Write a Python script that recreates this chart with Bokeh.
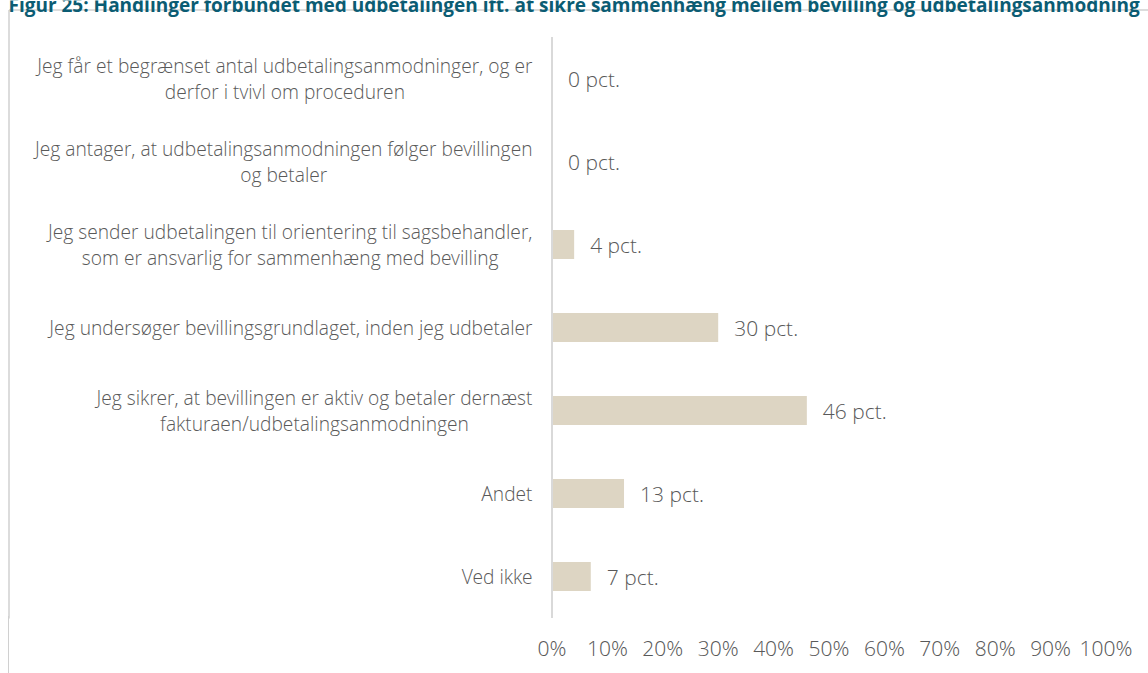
import glob
import subprocess

from bokeh.plotting import figure
from bokeh.models import (Range1d, FixedTicker, PrintfTickFormatter, ColumnDataSource, Label, Arrow,
                          InlineStyleSheet)
from bokeh.core.properties import value
from bokeh.embed import file_html
from bokeh.resources import INLINE

# ---------------- data ----------------
title_text = ("Figur 25: Handlinger forbundet med udbetalingen ift. at sikre sammenhæng "
              "mellem bevilling og udbetalingsanmodning")
categories = [
    "Jeg får et begrænset antal udbetalingsanmodninger, og er\nderfor i tvivl om proceduren",
    "Jeg antager, at udbetalingsanmodningen følger bevillingen\nog betaler",
    "Jeg sender udbetalingen til orientering til sagsbehandler,\nsom er ansvarlig for sammenhæng med bevilling",
    "Jeg undersøger bevillingsgrundlaget, inden jeg udbetaler",
    "Jeg sikrer, at bevillingen er aktiv og betaler dernæst\nfakturaen/udbetalingsanmodningen",
    "Andet",
    "Ved ikke",
]
values = [0, 0, 4, 30, 46, 13, 7]
value_labels = [f"{v} pct." for v in values]
x_ticks = list(range(0, 101, 10))

# ---------------- layout ----------------
W, H = 1148, 673
FRAME_BOTTOM = 618          # canvas px where the plotting frame ends
ZERO_PX = 551.5             # canvas px of 0 %
PX_PER_PCT = 5.54
FIRST_CENTER = 78           # canvas px of first category centre
BAND = 83                   # px per category
FONT_MAIN = "Open Sans Light, Open Sans"
GRAY = "#595959"
LIGHT = "#D9D9D9"
BORDER = "#D0D0D0"
BAR = "#DDD5C3"
TEAL = "#0B5C73"
CAT_SIZE = 19.2
VAL_SIZE = 21
LINE_SPACING = 26


def px_to_x(px):
    return (px - ZERO_PX) / PX_PER_PCT


def px_to_y(py):
    return (py - FIRST_CENTER) / BAND


def _font_path():
    for pat in ["/usr/share/fonts/**/OpenSans-Light.ttf", "/usr/share/fonts/**/OpenSans*Light*.ttf",
                "/usr/share/fonts/**/OpenSans-Regular.ttf", "/usr/share/fonts/**/OpenSans*.ttf",
                "/usr/local/share/fonts/**/OpenSans*.ttf"]:
        found = sorted(f for f in glob.glob(pat, recursive=True) if "Italic" not in f)
        if found:
            return found[0]
    try:
        r = subprocess.run(["fc-match", "-f", "%{file}", "Open Sans"], capture_output=True, text=True, timeout=5)
        if r.stdout:
            return r.stdout.strip()
    except Exception:
        pass
    return None


_FP = _font_path()
_cache = {}


def text_width(s, size):
    try:
        from PIL import ImageFont
        key = round(size * 4)
        if key not in _cache:
            _cache[key] = ImageFont.truetype(_FP, size)
        return _cache[key].getlength(s)
    except Exception:
        return 0.52 * size * len(s)


n = len(categories)
idx = list(range(n))

# left border continues below the plotting frame (drawn as an overlay on the host element)
border_css = InlineStyleSheet(css=f"""
:host {{ position: relative; }}
:host::after {{
  content: "";
  position: absolute;
  left: 7.75px;
  top: {FRAME_BOTTOM - 2}px;
  width: 1.5px;
  height: {H - FRAME_BOTTOM + 2}px;
  background: {BORDER};
  z-index: 10;
  pointer-events: none;
}}
""")

p = figure(width=W, height=H,
           x_range=Range1d(px_to_x(0), px_to_x(W)),
           y_range=Range1d(px_to_y(FRAME_BOTTOM), px_to_y(0)),
           output_backend="svg", toolbar_location=None,
           y_axis_location=None,
           min_border_left=0, min_border_right=0, min_border_top=0,
           min_border_bottom=H - FRAME_BOTTOM)
p.stylesheets = [border_css]
p.outline_line_color = None
p.xgrid.grid_line_color = None
p.ygrid.grid_line_color = None
p.background_fill_color = "white"
p.border_fill_color = "white"

# bars
src = ColumnDataSource(dict(y=idx, v=values, lab=value_labels))
p.hbar(y="y", left=0, right="v", height=0.35, source=src,
       fill_color=BAR, line_color=None)

# category axis line
p.segment(x0=[0], y0=[-0.5], x1=[0], y1=[n - 0.5], line_color=LIGHT, line_width=2)

# value labels
p.text(x="v", y="y", text="lab", source=src, x_offset=16,
       text_font=value(FONT_MAIN), text_font_size=f"{VAL_SIZE}px", text_color=GRAY,
       text_align="left", text_baseline="middle")

# category labels (lines centred within a right-aligned block)
lx, ly, lt = [], [], []
RIGHT_GAP = 19.5
for i, cat in enumerate(categories):
    lines = cat.split("\n")
    wmax = max(text_width(s, CAT_SIZE) for s in lines)
    cx = -(RIGHT_GAP + wmax / 2) / PX_PER_PCT
    for k, s in enumerate(lines):
        lx.append(cx)
        ly.append(i + (k - (len(lines) - 1) / 2) * LINE_SPACING / BAND)
        lt.append(s)
p.text(x=lx, y=ly, text=lt, text_font=value(FONT_MAIN), text_font_size=f"{CAT_SIZE}px",
       text_color=GRAY, text_align="center", text_baseline="middle")

# x axis
ax = p.xaxis[0]
ax.ticker = FixedTicker(ticks=x_ticks)
ax.formatter = PrintfTickFormatter(format="%d%%")
ax.axis_line_color = None
ax.major_tick_line_color = None
ax.minor_tick_line_color = None
ax.major_tick_out = 0
ax.major_tick_in = 0
ax.major_label_standoff = 15
ax.major_label_text_font = FONT_MAIN
ax.major_label_text_font_size = f"{VAL_SIZE}px"
ax.major_label_text_color = GRAY

# chart border (light gray, top and left edges)
p.add_layout(Arrow(end=None, x_start=px_to_x(8.5), y_start=px_to_y(9.5),
                   x_end=px_to_x(4000), y_end=px_to_y(9.5),
                   line_color=BORDER, line_width=1.5))
p.add_layout(Arrow(end=None, x_start=px_to_x(8.5), y_start=px_to_y(9.5),
                   x_end=px_to_x(8.5), y_end=px_to_y(4000),
                   line_color=BORDER, line_width=1.5))

# title (top cut off as in the source)
p.add_layout(Label(x=px_to_x(8), y=px_to_y(4.5), text=title_text,
                   text_font="Open Sans", text_font_style="bold", text_font_size="19px",
                   text_color=TEAL, text_baseline="alphabetic", text_align="left"))

open("out.html", "w").write(file_html(p, INLINE))
